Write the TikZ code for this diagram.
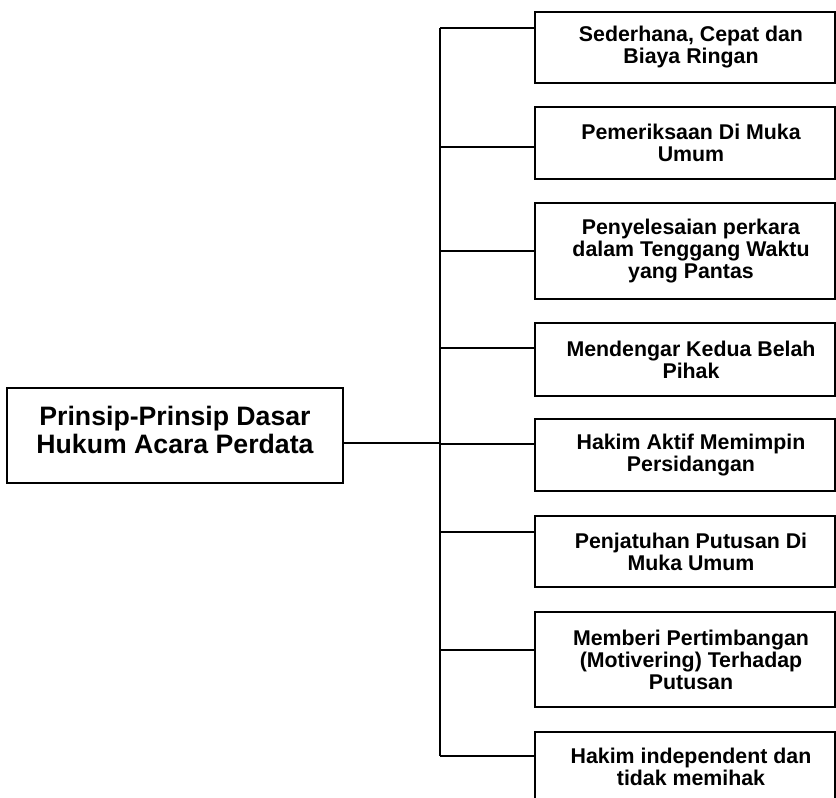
\documentclass[tikz,border=0pt]{standalone}
\usepackage{fontspec}
\setmainfont{Liberation Sans}
\begin{document}
\begin{tikzpicture}[x=0.75pt,y=-0.75pt,
  line/.style={line width=1.4pt},
  mainbox/.style={draw,line width=1.4pt,inner sep=0pt,minimum width=252pt,minimum height=71.25pt},
  maintext/.style={inner sep=0pt,align=center,font=\bfseries\fontsize{20}{21}\selectfont},
  rbox/.style={draw,line width=1.4pt,inner sep=0pt,minimum width=225pt},
  rtext/.style={inner sep=0pt,align=center,font=\bfseries\fontsize{16}{16.5}\selectfont}]
\useasboundingbox (0,0) rectangle (836,798);
\fill[white] (0,0) rectangle (836,798);

% root box
\node[mainbox] (root) at (175,435.5) {};
\node[maintext] (rt) at ([yshift=4pt]root.center) {Prinsip-Prinsip Dasar\\Hukum Acara Perdata};

% branch boxes
\node[rbox,minimum height=53.25pt] (b1) at (685,47.5)  {};
\node[rbox,minimum height=54pt]    (b2) at (685,143)   {};
\node[rbox,minimum height=72pt]    (b3) at (685,251)   {};
\node[rbox,minimum height=54.75pt] (b4) at (685,359.5) {};
\node[rbox,minimum height=54pt]    (b5) at (685,455)   {};
\node[rbox,minimum height=53.25pt] (b6) at (685,551.5) {};
\node[rbox,minimum height=71.25pt] (b7) at (685,659.5) {};
\node[rbox,minimum height=58.5pt]  (b8) at (685,771)   {};

% branch labels, set slightly right of the box centres
\node[rtext] (t1) at ([xshift=4.5pt]b1.center) {Sederhana, Cepat dan\\Biaya Ringan};
\node[rtext] (t2) at ([xshift=4.5pt]b2.center) {Pemeriksaan Di Muka\\Umum};
\node[rtext] (t3) at ([xshift=4.5pt]b3.center) {Penyelesaian perkara\\dalam Tenggang Waktu\\yang Pantas};
\node[rtext] (t4) at ([xshift=4.5pt]b4.center) {Mendengar Kedua Belah\\Pihak};
\node[rtext] (t5) at ([xshift=4.5pt]b5.center) {Hakim Aktif Memimpin\\Persidangan};
\node[rtext] (t6) at ([xshift=4.5pt]b6.center) {Penjatuhan Putusan Di\\Muka Umum};
\node[rtext] (t7) at ([xshift=4.5pt]b7.center) {Memberi Pertimbangan\\(Motivering) Terhadap\\Putusan};
\node[rtext] (t8) at ([xshift=4.5pt,yshift=3pt]b8.center) {Hakim independent dan\\tidak memihak};

% junctions on the spine
\coordinate (s1) at (440,28);
\coordinate (s2) at (440,147);
\coordinate (s3) at (440,251);
\coordinate (s4) at (440,348);
\coordinate (s5) at (440,444);
\coordinate (s6) at (440,532);
\coordinate (s7) at (440,650);
\coordinate (s8) at (440,756);
\coordinate (m)  at (440,443);

% spine and branches
\draw[line] (s1) -- (s8);
\draw[line] (m -| root.east) -- (m);
\foreach \i in {1,...,8}{
  \draw[line] (s\i) -- (s\i -| b\i.west);
}
\end{tikzpicture}
\end{document}
